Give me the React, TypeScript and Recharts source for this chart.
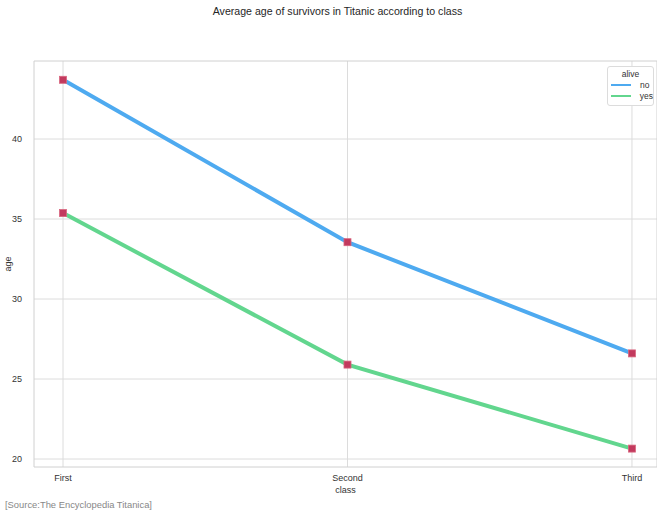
import React from 'react';
import { LineChart, Line, XAxis, YAxis, CartesianGrid, ReferenceArea, Label } from 'recharts';

const classes = ['First', 'Second', 'Third'];
const ageNo = [43.7, 33.55, 26.6];
const ageYes = [35.37, 25.9, 20.65];
const yTicks = [20, 25, 30, 35, 40];
const xTicks = [0, 1, 2];

const data = classes.map((c, i) => ({ x: i, cls: c, no: ageNo[i], yes: ageYes[i] }));

const FONT = '"Liberation Sans", Arial, sans-serif';

const SquareDot = (props: any) => {
  const { cx, cy, key } = props;
  if (cx == null || cy == null) return null;
  return <rect key={key} x={cx - 3.5} y={cy - 3.5} width={7} height={7} fill="#c23a5e" stroke="#d9667f" strokeWidth={0.8} />;
};

export default function App() {
  return (
    <div style={{ position: 'absolute', left: 0, top: 0, width: 657, height: 514, background: '#fff', fontFamily: FONT }}>
      <div style={{ position: 'absolute', left: 0, width: 657, top: 5, textAlign: 'center', fontSize: 10.6, color: '#262626', paddingLeft: 18, boxSizing: 'border-box' }}>
        Average age of survivors in Titanic according to class
      </div>
      <LineChart width={657} height={514} data={data} margin={{ top: 61, right: 0, left: 0, bottom: 0 }}>
        <CartesianGrid stroke="#dcdcdc" strokeWidth={1} horizontalValues={yTicks} verticalValues={xTicks} />
        <ReferenceArea x1={-0.102} x2={2.088} y1={19.5} y2={44.875} fill="none" stroke="#d0d0d0" strokeWidth={1} ifOverflow="visible" />
        <XAxis
          dataKey="x"
          type="number"
          domain={[-0.102, 2.088]}
          ticks={xTicks}
          tickFormatter={(v: number) => classes[v]}
          axisLine={false}
          tickLine={false}
          height={47}
          tickMargin={2}
          tick={{ fontSize: 9, fill: '#333', fontFamily: FONT }}
          allowDataOverflow
        >
          <Label value="class" position="insideTop" offset={20} style={{ fontSize: 9, fill: '#333', fontFamily: FONT }} />
        </XAxis>
        <YAxis
          type="number"
          domain={[19.5, 44.875]}
          ticks={yTicks}
          axisLine={false}
          tickLine={false}
          width={34}
          tickMargin={6}
          tick={{ fontSize: 9, fill: '#333', fontFamily: FONT }}
          allowDataOverflow
        >
          <Label value="age" angle={-90} position="insideLeft" offset={8} style={{ fontSize: 9, fill: '#333', fontFamily: FONT, textAnchor: 'middle' }} />
        </YAxis>
        <Line dataKey="no" stroke="#4eaaf0" strokeWidth={4} dot={SquareDot} activeDot={false} isAnimationActive={false} />
        <Line dataKey="yes" stroke="#62d68e" strokeWidth={4} dot={SquareDot} activeDot={false} isAnimationActive={false} />
      </LineChart>
      <div style={{ position: 'absolute', left: 607, top: 66, width: 47, height: 40, border: '1px solid #dcdcdc', borderRadius: 3, background: '#fff', fontSize: 8.5, color: '#333', boxSizing: 'border-box' }}>
        <div style={{ textAlign: 'center', marginTop: 2 }}>alive</div>
        <div style={{ display: 'flex', alignItems: 'center', marginTop: 1 }}>
          <div style={{ width: 20, height: 2, background: '#4eaaf0', marginLeft: 3 }} />
          <span style={{ marginLeft: 9 }}>no</span>
        </div>
        <div style={{ display: 'flex', alignItems: 'center', marginTop: 1 }}>
          <div style={{ width: 20, height: 2, background: '#62d68e', marginLeft: 3 }} />
          <span style={{ marginLeft: 9 }}>yes</span>
        </div>
      </div>
      <div style={{ position: 'absolute', left: 5, top: 499, fontSize: 9.4, color: '#888' }}>
        [Source:The Encyclopedia Titanica]
      </div>
    </div>
  );
}
